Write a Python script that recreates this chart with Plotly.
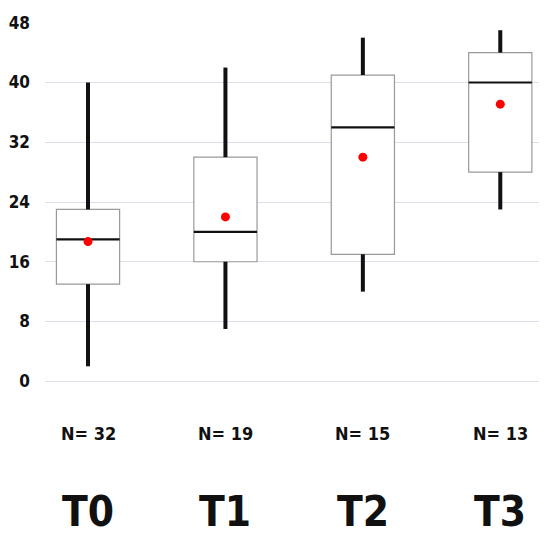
import plotly.graph_objects as go

groups = ["T0", "T1", "T2", "T3"]
counts = [32, 19, 15, 13]
mins = [2, 7, 12, 23]
q1s = [13, 16, 17, 28]
medians = [19, 20, 34, 40]
q3s = [23, 30, 41, 44]
maxs = [40, 42, 46, 47]
means = [18.7, 22, 30, 37.1]
y_ticks = [0, 8, 16, 24, 32, 40, 48]

xs = list(range(len(groups)))
BW = 0.46
FONT = "DejaVu Sans Condensed, Liberation Sans Narrow, Roboto, sans-serif"

fig = go.Figure()

# whiskers
wx, wy = [], []
for i in xs:
    wx += [i, i, None, i, i, None]
    wy += [mins[i], q1s[i], None, q3s[i], maxs[i], None]
fig.add_trace(go.Scatter(x=wx, y=wy, mode="lines",
                         line=dict(color="#111111", width=4), hoverinfo="skip"))

# boxes
fig.add_trace(go.Bar(x=xs, y=[q3s[i] - q1s[i] for i in xs], base=q1s, width=BW,
                     marker=dict(color="white", line=dict(color="#999999", width=1.2))))

# medians
mx, my = [], []
for i in xs:
    mx += [i - BW / 2, i + BW / 2, None]
    my += [medians[i], medians[i], None]
fig.add_trace(go.Scatter(x=mx, y=my, mode="lines",
                         line=dict(color="#111111", width=2.2), hoverinfo="skip"))

# means
fig.add_trace(go.Scatter(x=xs, y=means, mode="markers",
                         marker=dict(color="#ff0000", size=9)))

for i in xs:
    fig.add_annotation(x=i, y=-0.142, xref="x", yref="paper", yanchor="middle",
                       text=f"<b>N= {counts[i]}</b>",
                       showarrow=False, font=dict(family=FONT, size=18, color="#111111"))
    fig.add_annotation(x=i, y=-0.433, xref="x", yref="paper", yanchor="bottom",
                       text=f"<b>{groups[i]}</b>",
                       showarrow=False, font=dict(family=FONT, size=42, color="#111111"))

fig.update_layout(
    width=539, height=531,
    margin=dict(l=37, r=0, t=14, b=157),
    paper_bgcolor="white", plot_bgcolor="white",
    showlegend=False,
    xaxis=dict(range=[-0.313, 3.34], showgrid=False, zeroline=False, showticklabels=False,
               fixedrange=True),
    yaxis=dict(range=[-0.1, 48.1], tickvals=y_ticks, ticktext=[f"<b>{v}</b>" for v in y_ticks],
               showgrid=True, gridcolor="#dedeec", gridwidth=1,
               zeroline=True, zerolinecolor="#dedeec", zerolinewidth=1,
               ticklabelstandoff=14,
               tickfont=dict(family=FONT, size=17, color="#111111")),
)

fig.write_html("out.html")
